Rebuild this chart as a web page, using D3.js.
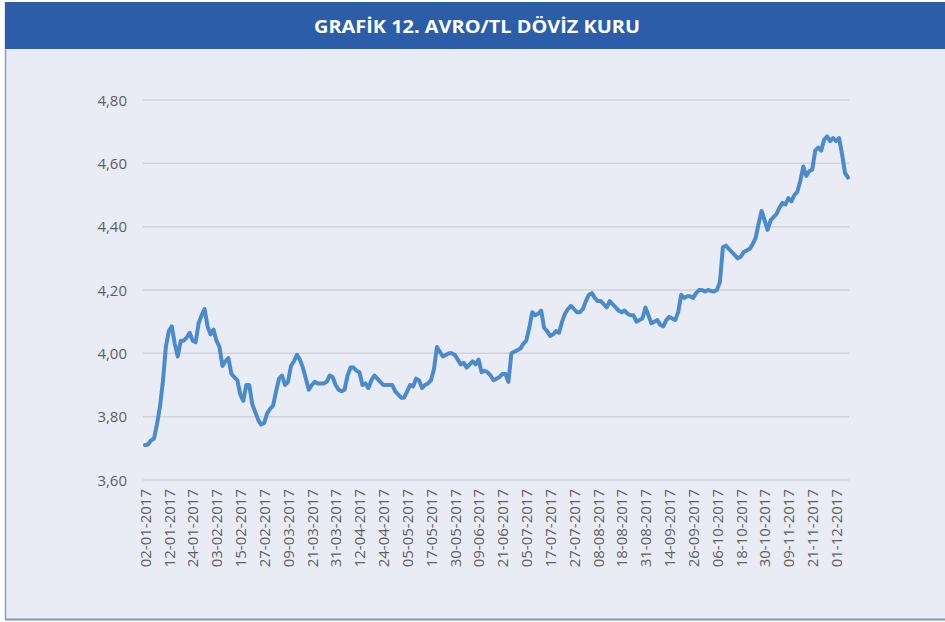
<!DOCTYPE html>
<html>
<head>
<meta charset="utf-8">
<script src="https://cdn.jsdelivr.net/npm/d3@7/dist/d3.min.js"></script>
<style>
  html, body { margin: 0; padding: 0; background: #ffffff; }
  svg { display: block; }
</style>
</head>
<body>
<script>
const title = "GRAFİK 12. AVRO/TL DÖVİZ KURU";

const tickLabels = [
  "02-01-2017","12-01-2017","24-01-2017","03-02-2017","15-02-2017","27-02-2017",
  "09-03-2017","21-03-2017","31-03-2017","12-04-2017","24-04-2017","05-05-2017",
  "17-05-2017","30-05-2017","09-06-2017","21-06-2017","05-07-2017","17-07-2017",
  "27-07-2017","08-08-2017","18-08-2017","31-08-2017","14-09-2017","26-09-2017",
  "06-10-2017","18-10-2017","30-10-2017","09-11-2017","21-11-2017","01-12-2017"
];
const tickEvery = 8;

const yTicks = [3.6, 3.8, 4.0, 4.2, 4.4, 4.6, 4.8];

const avroTl = [
  3.710, 3.712, 3.725, 3.730, 3.775, 3.830, 3.910, 4.020, 4.070, 4.085,
  4.030, 3.990, 4.040, 4.040, 4.050, 4.065, 4.040, 4.035, 4.095, 4.120,
  4.140, 4.085, 4.060, 4.075, 4.040, 4.020, 3.960, 3.975, 3.985, 3.935,
  3.925, 3.915, 3.870, 3.850, 3.900, 3.900, 3.840, 3.815, 3.790, 3.775,
  3.780, 3.810, 3.825, 3.835, 3.880, 3.920, 3.930, 3.900, 3.910, 3.960,
  3.975, 3.995, 3.980, 3.955, 3.920, 3.885, 3.900, 3.910, 3.905, 3.905,
  3.905, 3.910, 3.930, 3.925, 3.900, 3.885, 3.880, 3.885, 3.930, 3.955,
  3.955, 3.945, 3.940, 3.900, 3.905, 3.890, 3.915, 3.930, 3.920, 3.910,
  3.900, 3.900, 3.900, 3.900, 3.880, 3.870, 3.860, 3.860, 3.880, 3.900,
  3.895, 3.920, 3.915, 3.890, 3.900, 3.905, 3.915, 3.950, 4.020, 4.005,
  3.990, 3.995, 4.000, 4.000, 3.995, 3.980, 3.965, 3.970, 3.955, 3.965,
  3.975, 3.965, 3.980, 3.940, 3.945, 3.940, 3.930, 3.915, 3.920, 3.925,
  3.935, 3.935, 3.910, 4.000, 4.005, 4.010, 4.015, 4.030, 4.040, 4.080,
  4.130, 4.120, 4.125, 4.135, 4.080, 4.070, 4.055, 4.060, 4.070, 4.065,
  4.100, 4.125, 4.140, 4.150, 4.140, 4.130, 4.130, 4.140, 4.165, 4.185,
  4.190, 4.175, 4.165, 4.165, 4.155, 4.145, 4.165, 4.155, 4.145, 4.135,
  4.130, 4.135, 4.125, 4.120, 4.120, 4.100, 4.105, 4.110, 4.145, 4.120,
  4.095, 4.100, 4.105, 4.090, 4.085, 4.105, 4.115, 4.110, 4.105, 4.130,
  4.185, 4.175, 4.180, 4.180, 4.175, 4.190, 4.200, 4.200, 4.195, 4.200,
  4.197, 4.195, 4.200, 4.225, 4.335, 4.340, 4.330, 4.320, 4.310, 4.300,
  4.305, 4.320, 4.325, 4.330, 4.345, 4.365, 4.410, 4.450, 4.420, 4.390,
  4.420, 4.430, 4.440, 4.460, 4.475, 4.470, 4.490, 4.480, 4.500, 4.510,
  4.545, 4.590, 4.560, 4.575, 4.580, 4.640, 4.650, 4.640, 4.675, 4.685,
  4.670, 4.680, 4.670, 4.680, 4.630, 4.570, 4.555
];

const W = 945, H = 622;
const svg = d3.select("body").append("svg").attr("width", W).attr("height", H);

// panel background and frame
svg.append("rect").attr("x", 5).attr("y", 2).attr("width", W - 5).attr("height", H - 4)
  .attr("fill", "#E9ECF5");
svg.append("line").attr("x1", 5.5).attr("x2", 5.5).attr("y1", 2).attr("y2", 620)
  .attr("stroke", "#8C9DC2").attr("stroke-width", 1.5);
svg.append("line").attr("x1", 5).attr("x2", W).attr("y1", 619.5).attr("y2", 619.5)
  .attr("stroke", "#7F93BB").attr("stroke-width", 2);

// title bar
svg.append("rect").attr("x", 5).attr("y", 2).attr("width", W - 5).attr("height", 47)
  .attr("fill", "#2C5DA8");
svg.append("text").attr("x", 477).attr("y", 33)
  .attr("text-anchor", "middle")
  .attr("font-family", "'Open Sans', sans-serif").attr("font-weight", 700)
  .attr("font-size", 18.5).attr("fill", "#ffffff")
  .attr("textLength", 326).attr("lengthAdjust", "spacingAndGlyphs")
  .text(title);

const x = d3.scaleLinear().domain([0, avroTl.length - 1]).range([145, 848]);
const y = d3.scaleLinear().domain([3.6, 4.8]).range([480, 100]);

// gridlines
svg.append("g").selectAll("line").data(yTicks).join("line")
  .attr("x1", 143).attr("x2", 849)
  .attr("y1", d => y(d)).attr("y2", d => y(d))
  .attr("stroke", "#D1D3DB").attr("stroke-width", 1.5);

// y axis labels
const yAxis = d3.axisLeft(y).tickValues(yTicks).tickSize(0).tickPadding(0)
  .tickFormat(d => d3.format(".2f")(d).replace(".", ","));
const gy = svg.append("g").attr("transform", "translate(127,0)").call(yAxis);
gy.select(".domain").remove();
gy.selectAll("text").attr("font-family", "'Open Sans', sans-serif")
  .attr("font-size", 15).attr("fill", "#5F5F5F").attr("dy", "0.35em");

// x axis labels
const tickIdx = tickLabels.map((_, i) => i * tickEvery);
const xAxis = d3.axisBottom(x).tickValues(tickIdx).tickSize(0)
  .tickFormat((d, i) => tickLabels[i]);
const gx = svg.append("g").attr("transform", "translate(0,480)").call(xAxis);
gx.select(".domain").remove();
gx.selectAll("text")
  .attr("font-family", "'Open Sans', sans-serif").attr("font-size", 15)
  .attr("fill", "#5F5F5F")
  .attr("text-anchor", "end")
  .attr("transform", "rotate(-90)")
  .attr("x", -9).attr("y", 0).attr("dy", "0.35em");

// line
const line = d3.line().x((d, i) => x(i)).y(d => y(d)).curve(d3.curveLinear);
svg.append("path").datum(avroTl)
  .attr("d", line).attr("fill", "none")
  .attr("stroke", "#4A8BCC").attr("stroke-width", 4)
  .attr("stroke-linejoin", "round").attr("stroke-linecap", "round");
</script>
</body>
</html>
